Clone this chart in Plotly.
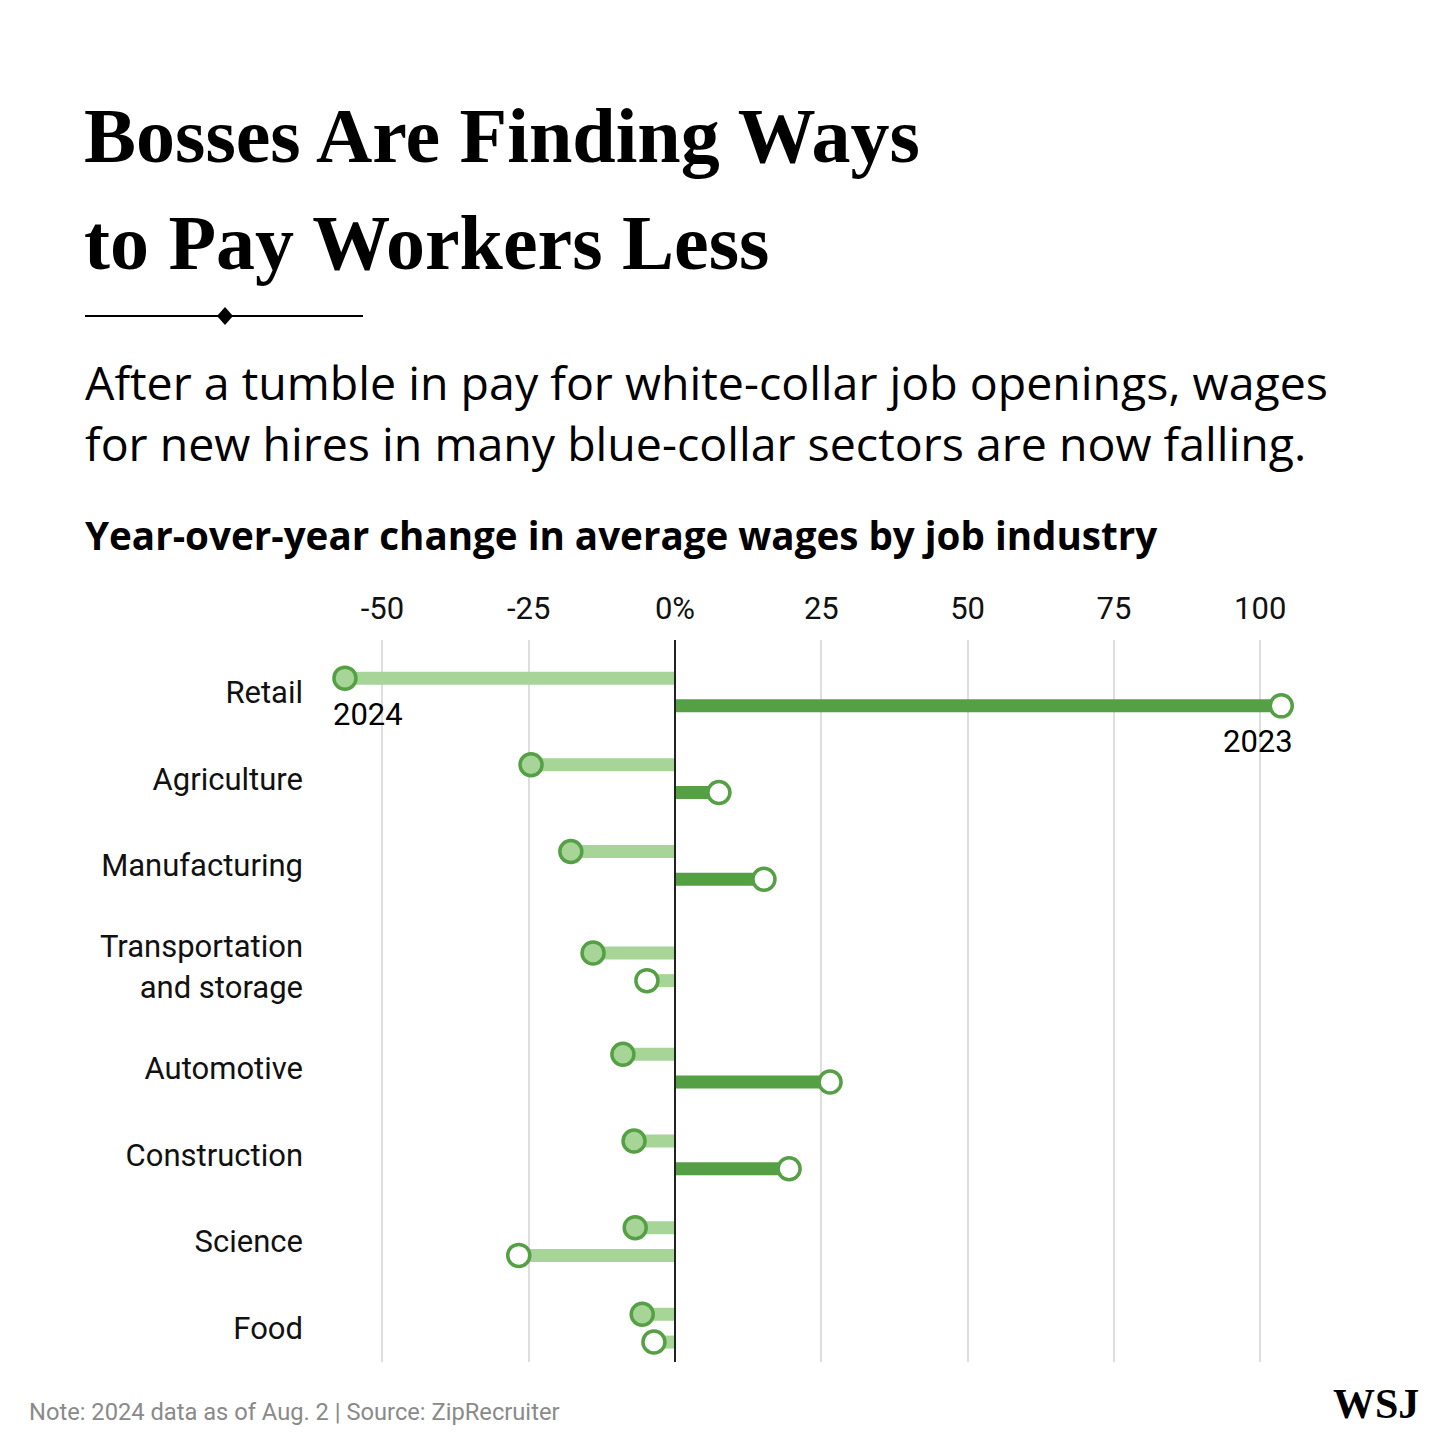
import plotly.graph_objects as go

# data
industries = ["Retail", "Agriculture", "Manufacturing", "Transportation<br>and storage",
              "Automotive", "Construction", "Science", "Food"]
chg_2024 = [-56.4, -24.6, -17.8, -14.0, -8.9, -7.0, -6.8, -5.6]
chg_2023 = [103.6, 7.5, 15.2, -4.8, 26.5, 19.5, -26.7, -3.6]
tick_vals = [-50, -25, 0, 25, 50, 75, 100]
tick_text = ["-50", "-25", "0%", "25", "50", "75", "100"]

W = H = 1440
PAD = 8  # page margin of the html body
LIGHT = "#a6d597"
DARK = "#55a044"
SANS = "Open Sans"
NARROW = "Roboto"
SERIF = "Liberation Serif"


def px(x):
    return (x - PAD) / W


def py(y):
    return 1 - (y - PAD) / H


# row positions, two-line labels get a bit more room
pos = []
p = 0.0
for i, lab in enumerate(industries):
    if i > 0:
        extra = lab.count("<br>") + industries[i - 1].count("<br>")
        p += 1 + 0.17 * extra
    pos.append(p)
off = 0.16

fig = go.Figure()

# stems
for y0, v24, v23 in zip(pos, chg_2024, chg_2023):
    for v, yy in ((v24, y0 - off), (v23, y0 + off)):
        fig.add_trace(go.Scatter(
            x=[0, v], y=[yy, yy], mode="lines",
            line=dict(color=LIGHT if v < 0 else DARK, width=13),
            hoverinfo="skip", showlegend=False))

# dots
fig.add_trace(go.Scatter(
    x=chg_2024, y=[q - off for q in pos], mode="markers", name="2024",
    marker=dict(size=22, color=LIGHT, line=dict(color=DARK, width=3.5)),
    cliponaxis=False, showlegend=False))
fig.add_trace(go.Scatter(
    x=chg_2023, y=[q + off for q in pos], mode="markers", name="2023",
    marker=dict(size=22, color="white", line=dict(color=DARK, width=3.5)),
    cliponaxis=False, showlegend=False))

y_top, y_bot = -0.6, pos[-1] + 0.39
x_lo = (330 - 675) / 5.852
x_hi = (1300 - 675) / 5.852

fig.update_layout(
    width=W, height=H,
    margin=dict(l=0, r=0, t=0, b=0),
    paper_bgcolor="white", plot_bgcolor="white",
    xaxis=dict(
        domain=[px(330), px(1300)], range=[x_lo, x_hi], side="top",
        tickvals=tick_vals, ticktext=tick_text, ticks="",
        ticklabelstandoff=14,
        tickfont=dict(family=NARROW, size=31, color="#111"),
        showgrid=True, gridcolor="#dedede", gridwidth=2,
        zeroline=False, showline=False, fixedrange=True),
    yaxis=dict(
        domain=[py(1362), py(640)], range=[y_bot, y_top],
        tickvals=pos, ticktext=industries, ticks="",
        ticklabelstandoff=26,
        tickfont=dict(family=NARROW, size=31, color="#111"),
        showgrid=False, zeroline=False, showline=False, fixedrange=True),
)

# zero line on top of the stems
fig.add_shape(type="line", xref="x", yref="paper", x0=0, x1=0,
              y0=py(1362), y1=py(640),
              line=dict(color="#222", width=2), layer="above")

# divider with diamond
fig.add_shape(type="line", xref="paper", yref="paper",
              x0=px(85), x1=px(363), y0=py(316), y1=py(316),
              line=dict(color="black", width=2))
dx, dy = 8 / W, 9 / H
cx, cy = px(225), py(316)
fig.add_shape(type="path", xref="paper", yref="paper",
              path=f"M {cx-dx} {cy} L {cx} {cy+dy} L {cx+dx} {cy} L {cx} {cy-dy} Z",
              fillcolor="black", line=dict(width=0))


def text(s, x, y, size, family, color="black", xanchor="left", bold=False, yref="paper", xref="paper", **kw):
    if bold:
        s = f"<b>{s}</b>"
    fig.add_annotation(text=s, x=x, y=y, xref=xref, yref=yref, showarrow=False,
                       xanchor=xanchor, yanchor="middle", align=xanchor if xanchor != "center" else "center",
                       font=dict(size=size, family=family, color=color), **kw)


text("Bosses Are Finding Ways", px(82), py(135), 78, SERIF, bold=True)
text("to Pay Workers Less", px(82), py(243), 78, SERIF, bold=True)

text("After a tumble in pay for white-collar job openings, wages", px(83), py(382), 46.5, SANS)
text("for new hires in many blue-collar sectors are now falling.", px(83), py(443), 46.5, SANS)

text("Year-over-year change in average wages by job industry", px(83), py(535), 38.6, SANS, bold=True)

# year labels next to the retail dots
text("2024", chg_2024[0], pos[0] - off, 31, NARROW, xanchor="left", xref="x", yref="y", xshift=-14, yshift=-36)
text("2023", chg_2023[0], pos[0] + off, 31, NARROW, xanchor="right", xref="x", yref="y", xshift=14, yshift=-36)

text("Note: 2024 data as of Aug. 2 | Source: ZipRecruiter", px(27), py(1412), 23.7, NARROW, color="#8a8a8a")
text("WSJ", px(1421), py(1404), 42, SERIF, xanchor="right", bold=True)

fig.write_html("out.html")
